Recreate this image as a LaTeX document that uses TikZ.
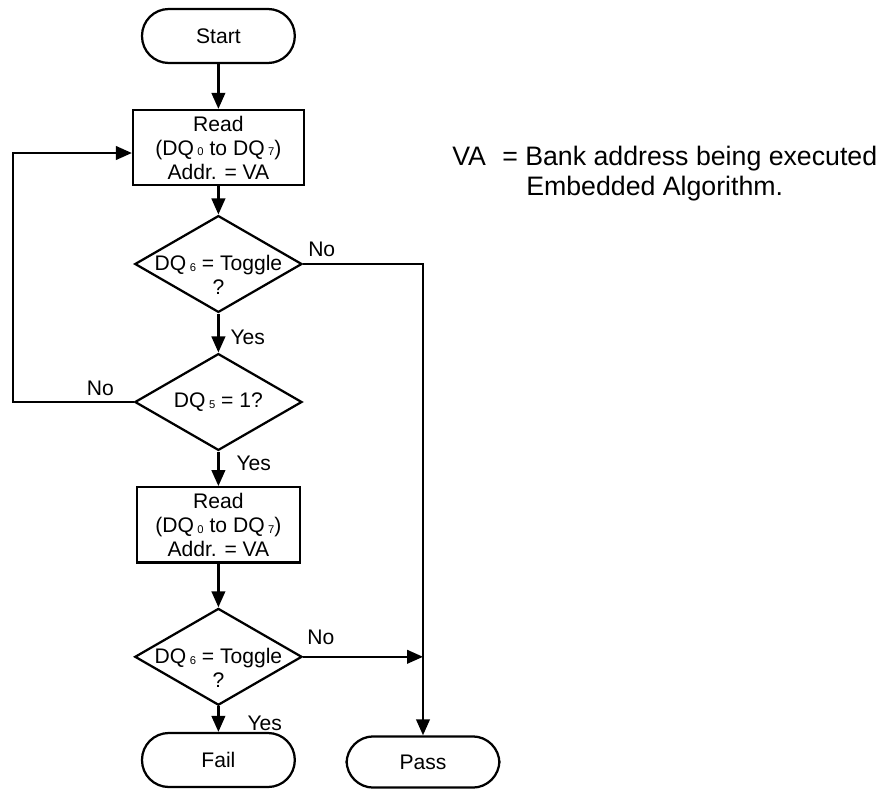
\documentclass[tikz,border=0pt]{standalone}
\usepackage{fontspec}
\setmainfont{Liberation Sans}
\usetikzlibrary{arrows.meta, shapes.geometric}
\newcommand{\dqsub}[1]{\kern2.5pt\raisebox{-0.5pt}{\fontsize{8}{8}\selectfont #1}}
\newcommand{\boxfont}{\fontsize{15}{17}\selectfont}
\newcommand{\notefont}{\fontsize{19}{21.3}\selectfont}

\begin{document}
\begin{tikzpicture}[
  >=Triangle,
  every node/.style={font=\boxfont},
  terminal/.style={rectangle, rounded corners=0.67cm, draw, line width=1.6pt,
                minimum width=3.82cm, minimum height=1.35cm, align=center},
  process/.style={rectangle, draw, line width=1.6pt, inner sep=2pt,
                  minimum width=4.2cm, minimum height=1.88cm, align=center},
  decision/.style={diamond, aspect=1.72, draw, line width=1.6pt, inner sep=0pt,
                   minimum width=4.18cm, minimum height=2.42cm, align=center},
  dtext/.style={align=center, inner sep=0pt, yshift=-0.28cm},
  flow/.style={-{Triangle[length=4mm, width=3.4mm]}, line width=1.6pt},
  lbl/.style={inner sep=0pt},
  note/.style={font=\notefont, inner sep=0pt}
]
\useasboundingbox (0,0) rectangle (22.225,-19.8);

\node[terminal] (start) at (5.46,-0.9) {Start};
\node[process, minimum width=4.27cm] (read1) at (5.46,-3.69)
  {Read\\(DQ\dqsub{0} to DQ\dqsub{7})\\Addr. = VA};
\node[decision, label={[dtext, name=tog1txt]center:{DQ\dqsub{6} = Toggle\\?}}]
  (tog1) at (5.46,-6.6) {};
\node[decision] (dq5) at (5.46,-10.05) {DQ\dqsub{5} = 1?};
\node[process, minimum width=4.08cm] (read2) at (5.46,-13.12)
  {Read\\(DQ\dqsub{0} to DQ\dqsub{7})\\Addr. = VA};
\node[decision, label={[dtext, name=tog2txt]center:{DQ\dqsub{6} = Toggle\\?}}]
  (tog2) at (5.46,-16.42) {};
\node[terminal] (fail) at (5.46,-19.0) {Fail};
\node[terminal, minimum height=1.28cm] (pass) at (10.575,-19.05) {Pass};

\coordinate (loopcorner) at (0.333,-10.05);

% main column
\draw[flow] (start) -- (read1);
\draw[flow] (read1) -- (tog1);
\draw[flow] (tog1.south) node[lbl, anchor=north west, xshift=2.75mm, yshift=-3.75mm] (yes1) {Yes}
  -- (dq5.north);
\draw[flow] (dq5.south) node[lbl, anchor=north west, xshift=4.25mm, yshift=-0.75mm] (yes2) {Yes}
  -- (read2.north);
\draw[flow] (read2) -- (tog2);
\draw[flow] (tog2.south) node[lbl, anchor=north west, xshift=7mm, yshift=-2.25mm] (yes3) {Yes}
  -- (fail.north);

% side branches
\draw[flow] (tog1.east) node[lbl, anchor=south west, xshift=1mm, yshift=1.5mm] (no1) {No}
  -| (pass.north);
\draw[flow] (dq5.west) node[lbl, anchor=south east, xshift=-4.7mm, yshift=1.4mm] (no2) {No}
  -- (loopcorner) |- ([yshift=-1.35mm]read1.west);
\draw[flow] (tog2.east) node[lbl, anchor=south west, xshift=0.8mm, yshift=2.8mm] (no3) {No}
  -- (tog2.east -| pass.north);

% legend
\node[note, anchor=base west] (va) at (11.3,-4.125) {VA};
\node[note, anchor=base west] (vadef) at (12.55,-4.125) {= Bank address being executed};
\node[note, anchor=base west] (vadef2) at (13.15,-4.875) {Embedded Algorithm.};

\end{tikzpicture}
\end{document}
